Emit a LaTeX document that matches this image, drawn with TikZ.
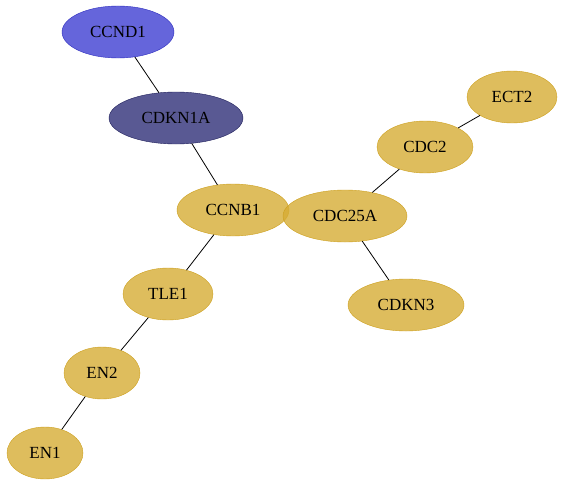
\documentclass[tikz,border=0pt]{standalone}
\usepackage{fontspec}
\setmainfont{Liberation Serif}
\usepackage{tikz}
\usetikzlibrary{shapes.geometric, positioning}
\definecolor{genegold}{RGB}{214,172,52}
\definecolor{goldborder}{RGB}{205,160,30}
\definecolor{ccndblue}{RGB}{62,62,210}
\definecolor{blueborder}{RGB}{45,45,190}
\definecolor{cdkslate}{RGB}{48,48,120}
\definecolor{slateborder}{RGB}{30,30,90}

\begin{document}
\begin{tikzpicture}[
  x=1pt, y=-1pt,
  gene/.style={ellipse, draw=goldborder, fill=genegold, fill opacity=0.8, text opacity=1, inner sep=0pt, minimum height=52pt, font=\fontsize{17}{20}\selectfont},
  bluegene/.style={gene, draw=blueborder, fill=ccndblue},
  slategene/.style={gene, draw=slateborder, fill=cdkslate},
  link/.style={draw=black, line width=0.8pt}
]
\useasboundingbox (0,0) rectangle (564,487);

% upper branch
\node[bluegene, minimum width=112pt] (ccnd1) at (118,32) {CCND1};
\node[slategene, minimum width=134pt] (cdkn1a) at (176,118) {CDKN1A};
\node[gene, minimum width=112pt] (ccnb1) at (233,210) {CCNB1};

% right branch
\node[gene, minimum width=124pt] (cdc25a) at (345,216) {CDC25A};
\node[gene, minimum width=96pt] (cdc2) at (425,147) {CDC2};
\node[gene, minimum width=90pt] (ect2) at (512,97) {ECT2};
\node[gene, minimum width=116pt] (cdkn3) at (406,305) {CDKN3};

% lower branch
\node[gene, minimum width=90pt] (tle1) at (168,294) {TLE1};
\node[gene, minimum width=76pt] (en2) at (102,373) {EN2};
\node[gene, minimum width=76pt] (en1) at (45,453) {EN1};

\draw[link] (ccnd1) -- (cdkn1a);
\draw[link] (cdkn1a) -- (ccnb1);
\draw[link] (ccnb1) -- (tle1);
\draw[link] (tle1) -- (en2);
\draw[link] (en2) -- (en1);
\draw[link] (cdc25a) -- (cdc2);
\draw[link] (cdc2) -- (ect2);
\draw[link] (cdc25a) -- (cdkn3);

\end{tikzpicture}
\end{document}
